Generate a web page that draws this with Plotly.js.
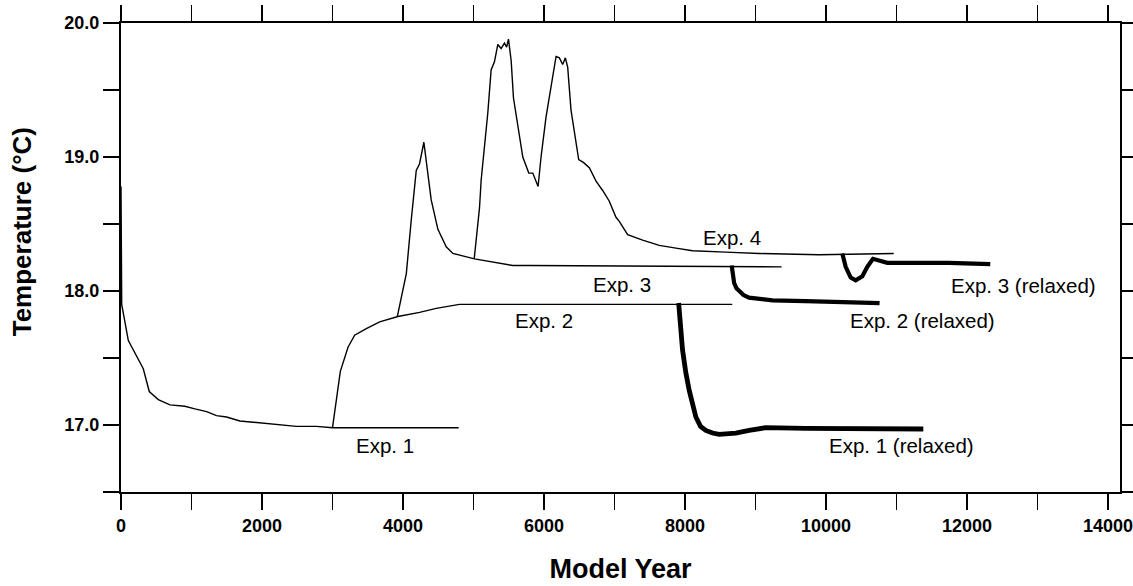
<!DOCTYPE html>
<html>
<head>
<meta charset="utf-8">
<script src="https://cdn.plot.ly/plotly-3.0.1.min.js"></script>
<style>html,body{margin:0;padding:0;background:#fff;}#chart{width:1133px;height:586px;}</style>
</head>
<body>
<div id="chart"></div>
<script>
// Exp. 1 (spin-up)
const exp1Year = [0, 10, 104, 316, 401, 529, 694, 906, 1048, 1214, 1355, 1497, 1686, 1874, 2063, 2252, 2488, 2771, 3000, 4790];
const exp1Temp = [18.78, 17.90, 17.63, 17.42, 17.25, 17.19, 17.15, 17.14, 17.12, 17.10, 17.07, 17.06, 17.03, 17.02, 17.01, 17.00, 16.99, 16.99, 16.98, 16.98];
// Exp. 2
const exp2Year = [3000, 3055, 3111, 3220, 3314, 3480, 3669, 3928, 4235, 4471, 4800, 8670];
const exp2Temp = [16.98, 17.19, 17.40, 17.58, 17.67, 17.72, 17.77, 17.81, 17.84, 17.87, 17.90, 17.90];
// Exp. 3
const exp3Year = [3920, 3990, 4047, 4117, 4188, 4235, 4296, 4400, 4495, 4613, 4707, 5014, 5227, 5557, 5793, 9370];
const exp3Temp = [17.81, 17.98, 18.13, 18.53, 18.90, 18.95, 19.11, 18.68, 18.46, 18.33, 18.28, 18.24, 18.22, 18.19, 18.19, 18.18];
// Exp. 4
const exp4Year = [5010, 5050, 5085, 5109, 5156, 5203, 5250, 5297, 5345, 5392, 5439, 5470, 5496, 5534, 5567, 5628, 5699, 5784, 5841, 5916, 5958, 6029, 6124, 6171, 6218, 6265, 6303, 6336, 6383, 6431, 6492, 6558, 6643, 6738, 6832, 6926, 7021, 7068, 7186, 7399, 7635, 7871, 8107, 8579, 9051, 9901, 10960];
const exp4Temp = [18.24, 18.45, 18.62, 18.83, 19.08, 19.33, 19.65, 19.71, 19.84, 19.81, 19.85, 19.82, 19.88, 19.72, 19.44, 19.23, 19.00, 18.88, 18.88, 18.78, 19.00, 19.30, 19.61, 19.75, 19.74, 19.69, 19.74, 19.67, 19.35, 19.18, 18.98, 18.96, 18.92, 18.82, 18.75, 18.67, 18.55, 18.52, 18.42, 18.38, 18.34, 18.32, 18.30, 18.29, 18.28, 18.27, 18.28];
// Exp. 1 (relaxed)
const exp1rYear = [7910, 7965, 8012, 8059, 8154, 8220, 8295, 8390, 8484, 8720, 8909, 9145, 9712, 11380];
const exp1rTemp = [17.91, 17.56, 17.39, 17.26, 17.06, 16.99, 16.96, 16.94, 16.93, 16.94, 16.96, 16.98, 16.975, 16.97];
// Exp. 2 (relaxed)
const exp2rYear = [8662, 8680, 8697, 8730, 8768, 8830, 8909, 9240, 9712, 10184, 10760];
const exp2rTemp = [18.19, 18.12, 18.06, 18.02, 18.00, 17.97, 17.95, 17.93, 17.925, 17.915, 17.91];
// Exp. 3 (relaxed)
const exp3rYear = [10231, 10279, 10350, 10421, 10515, 10586, 10666, 10751, 10869, 11129, 11742, 12330];
const exp3rTemp = [18.28, 18.18, 18.10, 18.08, 18.11, 18.18, 18.24, 18.23, 18.21, 18.21, 18.21, 18.20];

// Curve labels
const labelText = ["Exp. 1", "Exp. 2", "Exp. 3", "Exp. 4", "Exp. 1 (relaxed)", "Exp. 2 (relaxed)", "Exp. 3 (relaxed)"];
const labelYear = [3739, 6000, 7110, 8669, 11072, 11374, 12797];
const labelTemp = [16.85, 17.78, 18.05, 18.40, 16.85, 17.78, 18.04];

const yTickVals = [17, 18, 19, 20];
const xTickVals = [0, 2000, 4000, 6000, 8000, 10000, 12000, 14000];

const FONT = "Liberation Sans, Arial, Helvetica, sans-serif";
const thin = {color: "black", width: 1.4};
const thick = {color: "black", width: 4.2};

function tr(x, y, line, name) {
  return {x: x, y: y, type: "scatter", mode: "lines", line: line, name: name, hoverinfo: "x+y"};
}

const data = [
  tr(exp1Year, exp1Temp, thin, "Exp. 1"),
  tr(exp2Year, exp2Temp, thin, "Exp. 2"),
  tr(exp3Year, exp3Temp, thin, "Exp. 3"),
  tr(exp4Year, exp4Temp, thin, "Exp. 4"),
  tr(exp1rYear, exp1rTemp, {color: "black", width: 4.8}, "Exp. 1 (relaxed)"),
  tr(exp2rYear, exp2rTemp, thick, "Exp. 2 (relaxed)"),
  tr(exp3rYear, exp3rTemp, thick, "Exp. 3 (relaxed)")
];

const annotations = labelText.map((t, i) => ({
  x: labelYear[i], y: labelTemp[i], xref: "x", yref: "y",
  text: t, showarrow: false, xanchor: "center", yanchor: "middle",
  font: {family: FONT, size: 20.5, color: "black"}
}));

// Y-axis title placed slightly above the axis centre, as in the reference
annotations.push({
  xref: "paper", yref: "paper", x: -0.0995, y: 0.555, xanchor: "center", yanchor: "middle",
  text: "Temperature (°C)", textangle: -90, showarrow: false,
  font: {family: FONT, size: 26, color: "black", weight: "bold"}
});

const axisCommon = {
  showgrid: false, zeroline: false, showline: true, linecolor: "black", linewidth: 2,
  mirror: "ticks", ticks: "outside", ticklen: 16, tickwidth: 1.5, tickcolor: "black",
  ticklabeloverflow: "allow",
  tickfont: {family: FONT, size: 18, color: "black", weight: "bold"}
};

const layout = {
  width: 1133, height: 586,
  margin: {l: 121, r: 13, t: 23, b: 94},
  paper_bgcolor: "white", plot_bgcolor: "white",
  showlegend: false,
  font: {family: FONT, color: "black"},
  xaxis: Object.assign({}, axisCommon, {
    range: [0, 14170],
    tickmode: "array", tickvals: xTickVals, ticktext: xTickVals.map(String),
    minor: {dtick: 1000, tick0: 0, ticks: "outside", ticklen: 16, tickwidth: 1.5, tickcolor: "black", showgrid: false},
    title: {text: "Model Year", font: {family: FONT, size: 27, color: "black", weight: "bold"}, standoff: 25}
  }),
  yaxis: Object.assign({}, axisCommon, {
    range: [16.5, 20.0],
    tickmode: "array", tickvals: yTickVals, ticktext: yTickVals.map(v => v.toFixed(1)),
    minor: {dtick: 0.5, tick0: 16.5, ticks: "outside", ticklen: 16, tickwidth: 1.5, tickcolor: "black", showgrid: false}
  }),
  annotations: annotations
};

Plotly.newPlot("chart", data, layout, {displayModeBar: false, staticPlot: true});
</script>
</body>
</html>
